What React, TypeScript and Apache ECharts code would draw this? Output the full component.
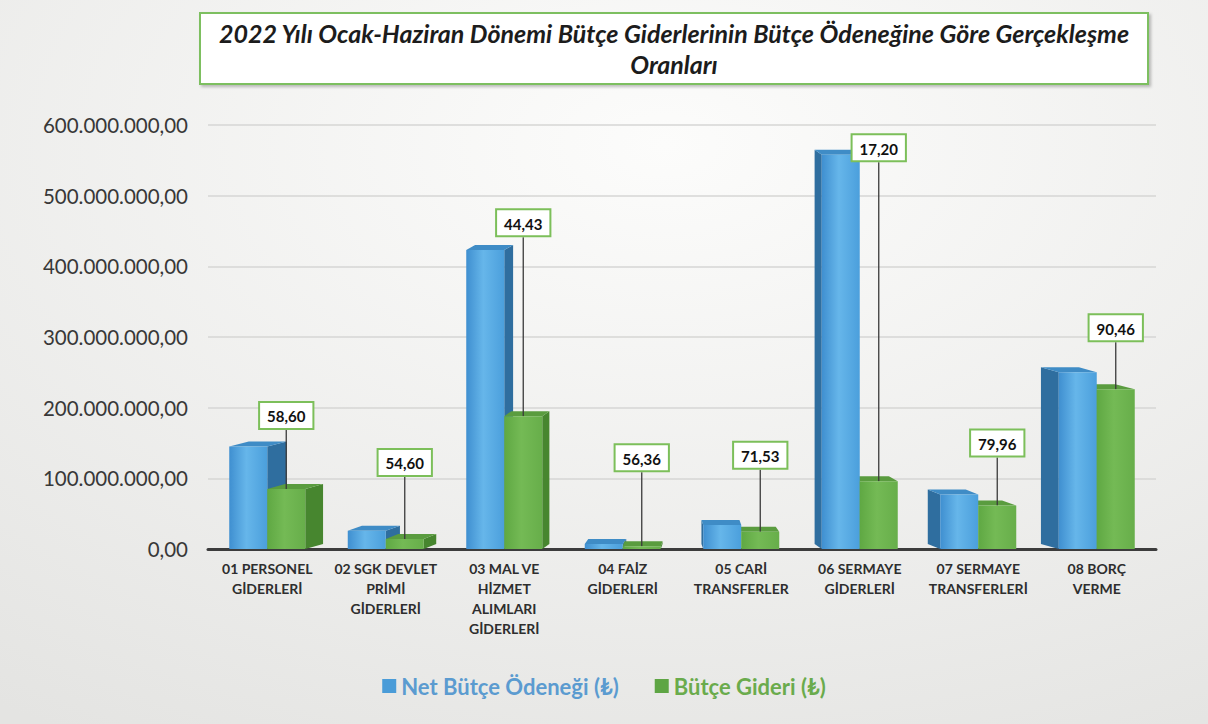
import React, { useEffect, useRef } from "react";
import * as echarts from "echarts";

const categories = [
  "01 PERSONEL\nGİDERLERİ",
  "02 SGK DEVLET\nPRİMİ\nGİDERLERİ",
  "03 MAL VE\nHİZMET\nALIMLARI\nGİDERLERİ",
  "04 FAİZ\nGİDERLERİ",
  "05 CARİ\nTRANSFERLER",
  "06 SERMAYE\nGİDERLERİ",
  "07 SERMAYE\nTRANSFERLERİ",
  "08 BORÇ\nVERME",
];
const netOdenek = [145e6, 26e6, 423e6, 7e6, 34e6, 558e6, 77e6, 250e6];
const butceGideri = [85e6, 14.2e6, 188e6, 3.9e6, 24.3e6, 96e6, 61.6e6, 226e6];
const rates = [58.6, 54.6, 44.43, 56.36, 71.53, 17.2, 79.96, 90.46];
const yMin = 0;
const yMax = 600e6;
const yStep = 100e6;
const seriesNames = ["Net Bütçe Ödeneği (₺)", "Bütçe Gideri (₺)"];
const titleText = "2022 Yılı Ocak-Haziran Dönemi Bütçe Giderlerinin Bütçe Ödeneğine Göre Gerçekleşme\nOranları";

// label lift (px) above green bar top – style only
const labelRise = [61, 64, 181, 76, 64, 321, 50, 49];

const BW = 38;
const K = 0.045;
const DY = 5;

function fmtTR(n: number): string {
  const s = Math.round(n).toString().replace(/\B(?=(\d{3})+(?!\d))/g, ".");
  return s + ",00";
}

export default function App() {
  const ref = useRef<HTMLDivElement>(null);
  useEffect(() => {
    if (!ref.current) return;
    const chart = echarts.init(ref.current, undefined, { renderer: "svg" });
    const blueFront = new echarts.graphic.LinearGradient(0, 0, 1, 0, [
      { offset: 0, color: "#3f8fd0" },
      { offset: 0.45, color: "#66b6ea" },
      { offset: 1, color: "#4b9fdc" },
    ]);
    const greenFront = new echarts.graphic.LinearGradient(0, 0, 1, 0, [
      { offset: 0, color: "#5fa843" },
      { offset: 0.45, color: "#74ba55" },
      { offset: 1, color: "#67ae4a" },
    ]);
    const option: any = {
      animation: false,
      backgroundColor: new echarts.graphic.RadialGradient(0.55, 0.2, 0.95, [
        { offset: 0, color: "#fcfcfb" },
        { offset: 1, color: "#e4e4e2" },
      ]),
      textStyle: { fontFamily: "Lato" },
      graphic: [
        {
          type: "rect",
          shape: { x: 200, y: 13, width: 948, height: 71 },
          style: {
            fill: "#ffffff",
            stroke: "#7dbf60",
            lineWidth: 2,
            shadowBlur: 3,
            shadowColor: "rgba(0,0,0,0.25)",
            shadowOffsetX: 2,
            shadowOffsetY: 2,
          },
          z: 10,
        },
        {
          type: "text",
          x: 674,
          y: 48,
          z: 11,
          style: {
            text: titleText,
            font: "italic bold 25px Lato",
            fill: "#1c1c1c",
            align: "center",
            verticalAlign: "middle",
            lineHeight: 31,
          },
        },
      ],
      legend: {
        left: "center",
        top: 670,
        itemWidth: 14,
        itemHeight: 14,
        itemGap: 36,
        icon: "rect",
        data: [
          { name: seriesNames[0], itemStyle: { color: "#4a9cd8" }, textStyle: { color: "#5b9bd0" } },
          { name: seriesNames[1], itemStyle: { color: "#5ea544" }, textStyle: { color: "#6aab4c" } },
        ],
        textStyle: { fontSize: 22, fontWeight: "bold", fontFamily: "Lato" },
      },
      grid: { left: 208, right: 52, top: 125, bottom: 175 },
      xAxis: {
        type: "category",
        data: categories,
        axisLine: { lineStyle: { color: "#3c3c3c", width: 3 } },
        axisTick: { show: false },
        axisLabel: {
          interval: 0,
          fontSize: 14,
          fontWeight: "bold",
          color: "#2e2e2e",
          lineHeight: 20,
          margin: 9,
          fontFamily: "Lato",
        },
      },
      yAxis: {
        type: "value",
        min: yMin,
        max: yMax,
        interval: yStep,
        axisLine: { show: false },
        axisTick: { show: false },
        splitLine: { lineStyle: { color: "#d6d6d4", width: 1.5 } },
        axisLabel: {
          formatter: (v: number) => fmtTR(v),
          fontSize: 20.5,
          color: "#383838",
          margin: 20,
          fontFamily: "Lato",
        },
      },
      series: [
        {
          type: "custom",
          z: 1,
          silent: true,
          data: categories.map((_, i) => [i, netOdenek[i], butceGideri[i]]),
          encode: { x: 0, y: [1, 2] },
          renderItem: (params: any, api: any) => {
            const idx = api.value(0);
            const base = api.coord([idx, 0]);
            const cx = base[0];
            const by = base[1];
            const vp = params.coordSys.x + params.coordSys.width / 2;
            const faces = (x0: number, x1: number, val: number, side: string, top: string) => {
              const ty = api.coord([idx, val])[1];
              const dx = (vp - (x0 + x1) / 2) * K;
              const sx = dx >= 0 ? x1 : x0;
              return [
                {
                  type: "polygon",
                  shape: { points: [[sx, ty], [sx + dx, ty - DY], [sx + dx, by - DY], [sx, by]] },
                  style: { fill: side },
                },
                {
                  type: "polygon",
                  shape: { points: [[x0, ty], [x1, ty], [x1 + dx, ty - DY], [x0 + dx, ty - DY]] },
                  style: { fill: top },
                },
              ];
            };
            const b = faces(cx - BW, cx, api.value(1), "#2f6e9f", "#3f8cc6");
            const g = faces(cx, cx + BW, api.value(2), "#47862f", "#5a9c3f");
            const children = cx < vp ? [...b, ...g] : [...g, ...b];
            return { type: "group", children };
          },
        },
        {
          name: seriesNames[0],
          type: "bar",
          z: 2,
          barWidth: BW,
          barGap: "0%",
          data: netOdenek,
          itemStyle: { color: blueFront },
        },
        {
          name: seriesNames[1],
          type: "bar",
          z: 2,
          barWidth: BW,
          barGap: "0%",
          data: butceGideri,
          itemStyle: { color: greenFront },
          label: {
            show: true,
            position: "top",
            distance: 0,
            formatter: (p: any) => rates[p.dataIndex].toFixed(2).replace(".", ","),
            backgroundColor: "#ffffff",
            borderColor: "#7cbf5a",
            borderWidth: 2,
            padding: [6, 7, 4, 7],
            fontFamily: "Lato",
            fontWeight: "bold",
            fontSize: 15,
            color: "#111111",
          },
          labelLine: { show: true, lineStyle: { color: "#3a3a3a", width: 1.3 } },
          labelLayout: (p: any) => ({ dy: -labelRise[p.dataIndex] }),
        },
      ],
    };
    chart.setOption(option);
    return () => chart.dispose();
  }, []);
  return (
    <div
      ref={ref}
      style={{ position: "absolute", left: 0, top: 0, width: 1208, height: 724 }}
    />
  );
}
